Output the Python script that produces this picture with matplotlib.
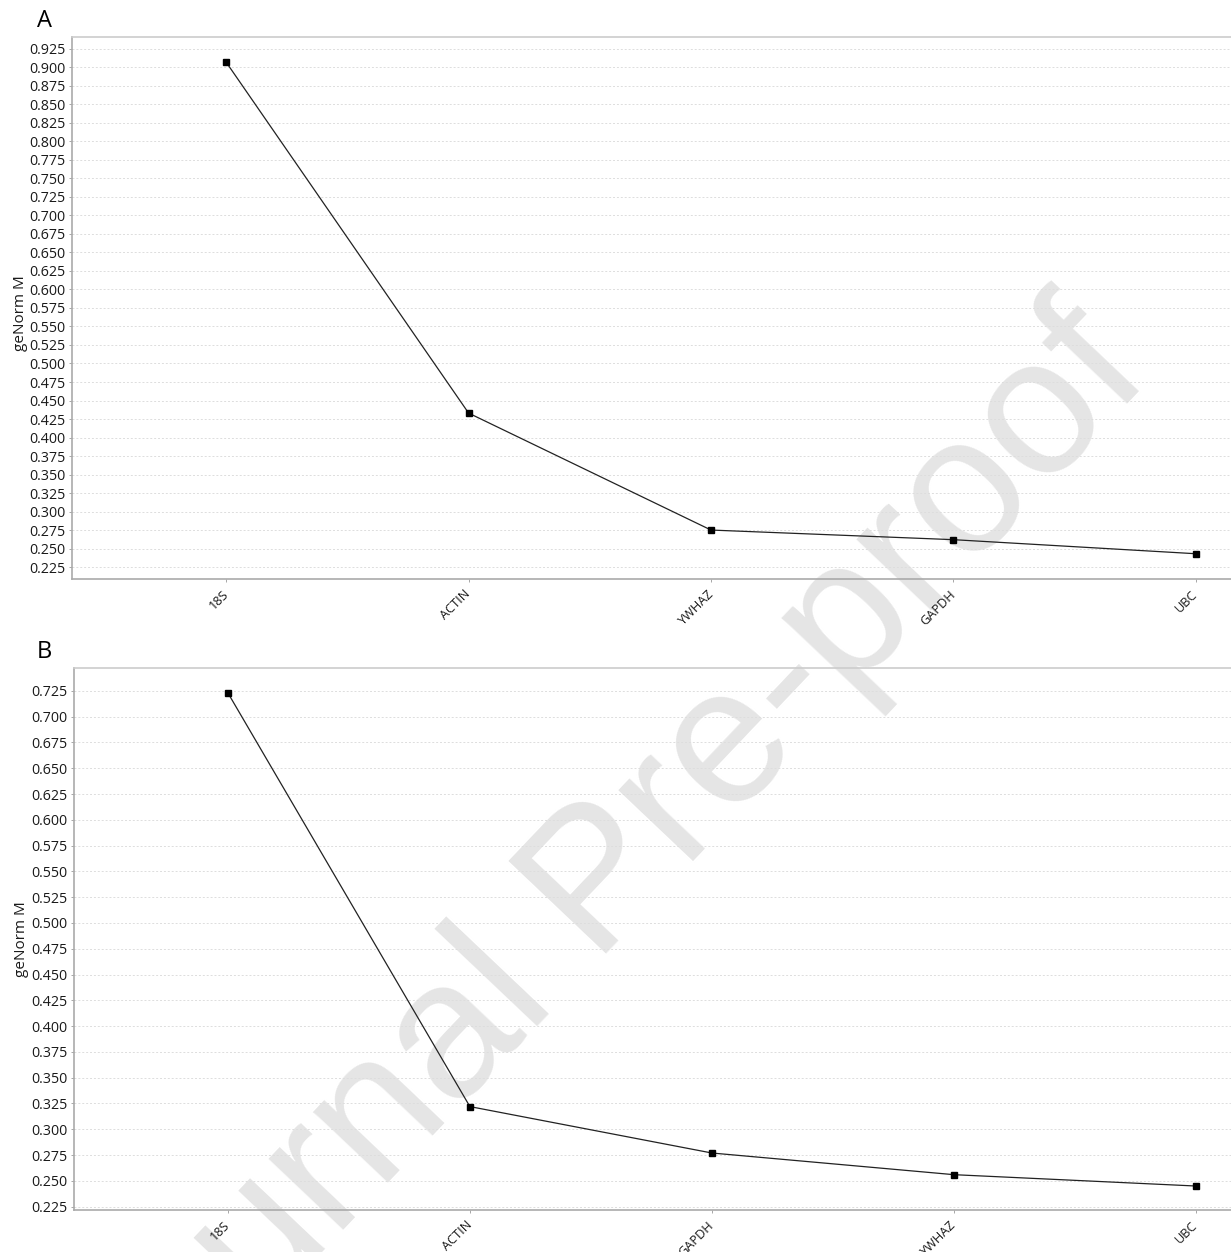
import matplotlib
matplotlib.use("Agg")
import matplotlib.pyplot as plt

# panel A: genes ranked by stability
genes_a = ["18S", "ACTIN", "YWHAZ", "GAPDH", "UBC"]
m_a = [0.907, 0.433, 0.275, 0.262, 0.243]

# panel B
genes_b = ["18S", "ACTIN", "GAPDH", "YWHAZ", "UBC"]
m_b = [0.723, 0.322, 0.277, 0.256, 0.245]

ticks_a = [0.225 + 0.025 * i for i in range(29)]
ticks_b = [0.225 + 0.025 * i for i in range(21)]

plt.rcParams['font.family'] = ['Open Sans', 'DejaVu Sans']

fig = plt.figure(figsize=(12.31, 12.52), dpi=100)

# watermark sits under the axes (axes backgrounds are transparent)
fig.text(0.487, 0.292, 'Journal Pre-proof', fontsize=140, color='#e5e5e5',
         rotation=46.5, ha='center', va='center', zorder=-5,
         fontfamily='Liberation Sans')

ax_a = fig.add_axes([0.0585, 0.5375, 0.9415, 0.4329])
ax_b = fig.add_axes([0.0601, 0.0335, 0.9399, 0.4330])


def draw_panel(ax, genes, vals, ticks, ylim):
    x = list(range(len(genes)))
    ax.plot(x, vals, color='#222222', linewidth=0.9, marker='s',
            markersize=4.5, markerfacecolor='black', markeredgecolor='black',
            zorder=3)
    ax.set_xlim(-0.636, 4.145)
    ax.set_ylim(*ylim)
    ax.set_xticks(x)
    ax.set_xticklabels(genes, rotation=45, ha='right', va='center',
                       rotation_mode='anchor', fontsize=9.2, color='#1a1a1a')
    ax.set_yticks(ticks)
    ax.set_yticklabels(['%.3f' % t for t in ticks], fontsize=10.3,
                       color='#1a1a1a')
    ax.tick_params(axis='both', length=2.5, width=0.6, color='#999999',
                   pad=2)
    ax.tick_params(axis='x', pad=7)
    ax.yaxis.grid(True, linestyle=(0, (2, 2)), color='#dddddd',
                  linewidth=0.7)
    ax.set_axisbelow(True)
    for side in ['left', 'bottom', 'top']:
        ax.spines[side].set_color('#aaaaaa')
        ax.spines[side].set_linewidth(1.2)
    ax.spines['top'].set_color('#cccccc')
    ax.spines['right'].set_visible(False)
    ax.set_ylabel('geNorm M', fontsize=11, color='#1a1a1a')
    ax.patch.set_alpha(0)


draw_panel(ax_a, genes_a, m_a, ticks_a, (0.2088, 0.941))
draw_panel(ax_b, genes_b, m_b, ticks_b, (0.2217, 0.7472))

ax_a.yaxis.set_label_coords(-0.038, 0.49)
ax_b.yaxis.set_label_coords(-0.039, 0.5)

fig.text(0.030, 0.983, 'A', fontsize=17, va='center', ha='left')
fig.text(0.030, 0.479, 'B', fontsize=17, va='center', ha='left')

fig.savefig('out.png', dpi=100)
